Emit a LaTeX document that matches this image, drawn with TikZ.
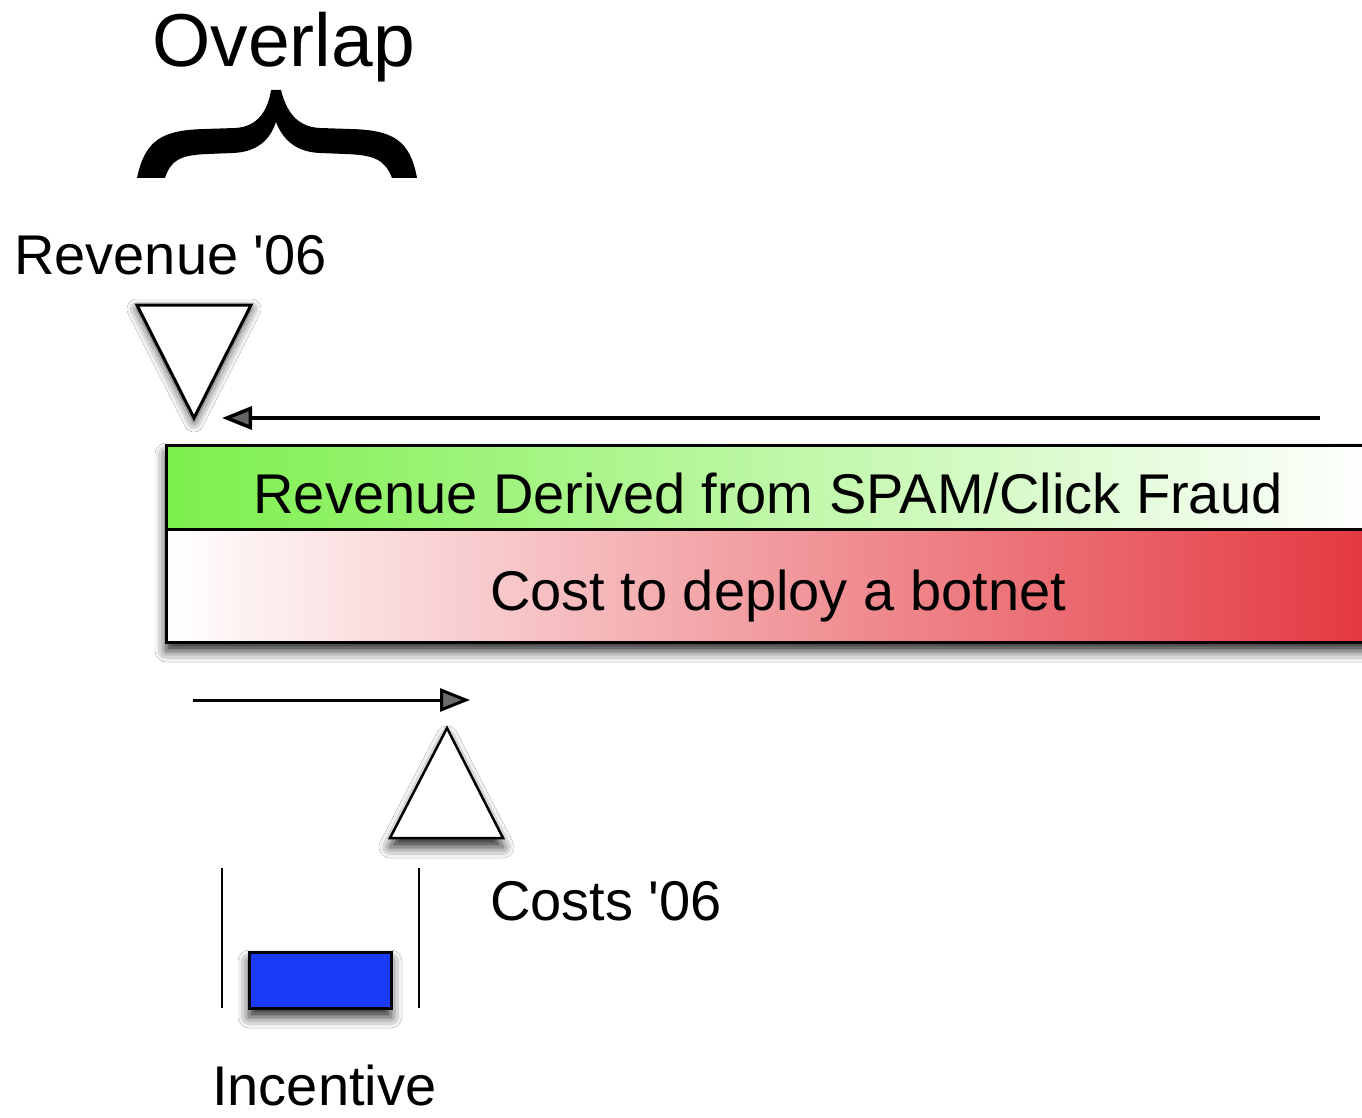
\documentclass[tikz,border=0pt]{standalone}
\usepackage{fontspec}
\setmainfont{Liberation Sans}[Ligatures=TeXOff]
\usetikzlibrary{arrows.meta,shadows.blur}

\definecolor{revgreen}{RGB}{124,240,76}
\definecolor{costred}{RGB}{228,56,64}
\definecolor{incblue}{RGB}{26,60,248}

\tikzset{
  big/.style={font=\fontsize{56}{60}\selectfont, inner sep=0pt},
  huge/.style={font=\fontsize{75}{80}\selectfont, inner sep=0pt},
  soft/.style={blur shadow={shadow xshift=0pt, shadow yshift=-4pt,
      shadow blur radius=10pt, shadow opacity=80}},
  softlow/.style={blur shadow={shadow xshift=0pt, shadow yshift=-9pt,
      shadow blur radius=11pt, shadow opacity=85}},
  marker/.style={draw=black, line width=3pt, fill=white, line join=miter},
  flow/.style={line width=3.5pt, -{Triangle[length=30pt,width=23pt]}},
  bar/.style={line width=2.5pt},
}

\begin{document}
\begin{tikzpicture}[x=1pt, y=-1pt]
  \useasboundingbox (0,0) rectangle (1362,1118);
  \fill[white] (0,0) rectangle (1362,1118);
  \clip (0,0) rectangle (1362,1118);

  % heading and its brace
  \node[huge, anchor=base west] (overlap) at (152,67) {Overlap};
  \fill[black]
    (137,178) .. controls (145,140) and (162,130) .. (205,129)
    -- (235,128) .. controls (258,127) and (268,110) .. (271,90)
    -- (281,90) .. controls (286,110) and (296,127) .. (320,128)
    -- (350,129) .. controls (393,130) and (410,140) .. (417,178)
    -- (392,178) .. controls (385,160) and (375,155) .. (345,154)
    -- (320,153) .. controls (296,152) and (283,140) .. (276,122)
    .. controls (270,140) and (257,152) .. (233,153)
    -- (208,154) .. controls (180,155) and (171,160) .. (165,178)
    -- cycle;

  % revenue marker
  \node[big, anchor=base west] (revlabel) at (14,274) {Revenue '06};
  \path[marker, soft] (137,305) -- (251,305) -- (194,418) -- cycle;
  \coordinate (revtip) at (194,418);

  % upper arrow
  \coordinate (revstart) at (1320,418);
  \coordinate (revend) at (222,418);
  \draw[flow] (revstart) -- (revend);

  % the two bands
  \path[fill=white, softlow] (166,445) rectangle (1372,642);
  \node[minimum width=1206pt, minimum height=84pt, inner sep=0pt,
        left color=revgreen, right color=white, draw=none]
    (revband) at (769,487) {};
  \node[minimum width=1206pt, minimum height=113pt, inner sep=0pt,
        left color=white, right color=costred, draw=none]
    (costband) at (769,585.5) {};
  \draw[line width=3pt] (166,445) rectangle (1372,642);
  \draw[line width=3pt] (166,529) -- (1372,529);
  \node[big, anchor=base] (revtext) at (768,513)
    {Revenue Derived from SPAM/Click Fraud};
  \node[big, anchor=base] (costtext) at (778,610) {Cost to deploy a botnet};

  % lower arrow
  \coordinate (coststart) at (193,700);
  \coordinate (costend) at (470,700);
  \draw[flow, line width=3pt] (coststart) -- (costend);

  % cost marker
  \path[marker, line width=2.5pt, softlow] (390,838) -- (503,838) -- (447,728) -- cycle;
  \node[big, anchor=base west] (costlabel) at (490,920) {Costs '06};

  % incentive gauge
  \coordinate (lefttop) at (222,868);
  \coordinate (leftbot) at (222,1008);
  \coordinate (righttop) at (419,868);
  \coordinate (rightbot) at (419,1008);
  \draw[bar] (lefttop) -- (leftbot);
  \draw[bar] (righttop) -- (rightbot);
  \node[draw=black, line width=3pt, fill=incblue, softlow,
        minimum width=142pt, minimum height=56pt, inner sep=0pt]
    (incbox) at (320,980) {};
  \node[big, anchor=base west] (inclabel) at (212,1105) {Incentive};
\end{tikzpicture}
\end{document}
